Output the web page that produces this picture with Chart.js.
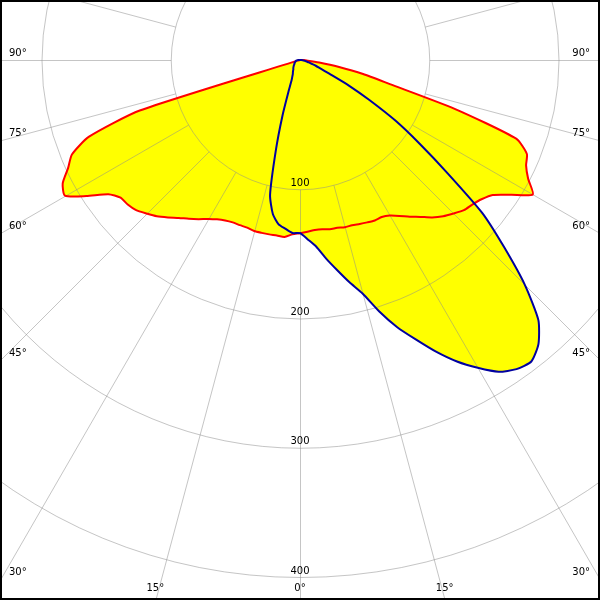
<!DOCTYPE html>
<html>
<head>
<meta charset="utf-8">
<title>Luminous intensity distribution</title>
<script src="https://cdn.jsdelivr.net/npm/chart.js@4.4.0/dist/chart.umd.min.js"></script>
<style>
    html, body { margin: 0; padding: 0; background: #fff; }
    #wrap { width: 600px; height: 600px; }
</style>
</head>
<body>
<div id="wrap"><canvas id="polar" width="600" height="600"></canvas></div>
<script>
// gamma angles (deg, 0 = straight down), shared by both planes
const gammaAngles = [
    -90, -87.5, -85, -82.5, -80, -77.5, -75, -72.5, -70, -67.5, -65, -62.5, -60, -57.5, -55, -52.5, -50, -47.5,
    -45, -42.5, -40, -37.5, -35, -32.5, -30, -27.5, -25, -22.5, -20, -17.5, -15, -12.5, -10, -7.5, -5, -2.5,
    0, 2.5, 5, 7.5, 10, 12.5, 15, 17.5, 20, 22.5, 25, 27.5, 30, 32.5, 35, 37.5, 40, 42.5,
    45, 47.5, 50, 52.5, 55, 57.5, 60, 62.5, 65, 67.5, 70, 72.5, 75, 77.5, 80, 82.5, 85, 87.5, 90
];

// C0 - C180 plane (red)
const redValues = [
    0, 0, 0, 0, 0, 0, 2, 130, 174, 191, 198, 207, 210, 196, 181, 175, 174, 172,
    168, 164, 159, 154, 150, 146, 142, 139, 137, 136, 136, 136, 137, 137, 137, 137, 137.5, 135,
    134, 133, 132, 132, 133, 133, 134, 134, 135, 136, 137, 137, 139, 143, 148, 153, 159, 164,
    168, 172, 174, 177, 182, 194, 208, 199, 193, 190, 178, 125, 72, 50, 30, 15, 6, 2, 0
];

// C90 - C270 plane (blue)
const blueValues = [
    0, 1, 2, 2.5, 3, 3, 3.5, 3.5, 4, 4, 4.5, 4.5, 5, 5, 5.5, 5.5, 6, 6.5,
    7, 7.5, 8, 8.5, 9, 10, 11, 12, 14, 17, 26, 45, 72, 107, 121, 128, 131, 134,
    134, 139, 145, 155, 165, 176, 187, 204, 220, 234, 249, 263, 275, 286, 292, 294, 287, 273,
    246, 214, 184, 144, 113, 88, 62, 42, 25, 17, 13, 9, 7, 5, 4, 3, 2, 1, 0
];

const ringValues = [100, 200, 300, 400, 500];
const ringLabels = ['100', '200', '300', '400'];
const angleTicks = [0, 15, 30, 45, 60, 75, 90];
const angleLabels = ['0°', '15°', '30°', '45°', '60°', '75°', '90°'];

const PX_PER_CD = 1.2925;
const gridColor = 'rgba(140, 140, 140, 0.5)';
const labelFont = '10px "DejaVu Sans", Verdana, sans-serif';

// polar (gamma, intensity) -> cartesian in cd units, y up
const toPoints = (values) => gammaAngles.map((g, i) => {
    const t = g * Math.PI / 180;
    return { x: values[i] * Math.sin(t), y: -values[i] * Math.cos(t) };
});

const polarGrid = {
    id: 'polarGrid',
    // runs after the filler has painted the yellow, before the outlines
    beforeDatasetsDraw(chart) {
        const { ctx, scales: { x, y } } = chart;
        const cx = x.getPixelForValue(0) + 0.5;
        const cy = y.getPixelForValue(0) + 0.5;
        const unit = x.getPixelForValue(1) - x.getPixelForValue(0);
        ctx.save();
        ctx.strokeStyle = gridColor;
        ctx.lineWidth = 1;
        ringValues.forEach(v => {
            ctx.beginPath();
            ctx.arc(cx, cy, v * unit, 0, Math.PI * 2);
            ctx.stroke();
        });
        const r0 = ringValues[0] * unit;
        for (let a = 0; a < 360; a += 15) {
            const t = a * Math.PI / 180;
            const sx = Math.sin(t), sy = Math.cos(t);
            ctx.beginPath();
            ctx.moveTo(cx + sx * r0, cy + sy * r0);
            ctx.lineTo(cx + sx * 1000, cy + sy * 1000);
            ctx.stroke();
        }
        ctx.restore();
    },
    afterDatasetsDraw(chart) {
        const { ctx, width: W, height: H, scales: { x, y } } = chart;
        const cx = x.getPixelForValue(0);
        const cy = y.getPixelForValue(0);
        const unit = x.getPixelForValue(1) - cx;
        ctx.save();
        ctx.fillStyle = '#000';
        ctx.font = labelFont;
        ctx.textBaseline = 'middle';

        // intensity labels along the 0 deg axis
        ctx.textAlign = 'center';
        ringLabels.forEach((lbl, i) => {
            ctx.fillText(lbl, cx, cy + ringValues[i] * unit - 6);
        });

        // angle labels where each ray leaves the frame
        angleTicks.forEach((a, i) => {
            const t = a * Math.PI / 180;
            const s = Math.sin(t), c = Math.cos(t);
            [-1, 1].forEach(side => {
                if (a === 0 && side === 1) return;
                const tSide = s > 1e-9 ? (side < 0 ? cx : W - cx) / s : Infinity;
                const tBottom = c > 1e-9 ? (H - cy) / c : Infinity;
                if (tSide <= tBottom) {
                    const yHit = cy + tSide * c;
                    ctx.textAlign = side < 0 ? 'left' : 'right';
                    ctx.fillText(angleLabels[i], side < 0 ? 9 : W - 10, yHit - 7);
                } else {
                    const xHit = cx + side * tBottom * s;
                    ctx.textAlign = 'center';
                    ctx.fillText(angleLabels[i], xHit, H - 12);
                }
            });
        });
        ctx.restore();
    },
    afterDraw(chart) {
        const { ctx, width: W, height: H } = chart;
        ctx.save();
        ctx.strokeStyle = '#000';
        ctx.lineWidth = 2;
        ctx.strokeRect(1, 1, W - 2, H - 2);
        ctx.restore();
    }
};

const ctx = document.getElementById('polar').getContext('2d');

new Chart(ctx, {
    type: 'scatter',
    data: {
        datasets: [
            {
                label: 'C0 - C180',
                data: toPoints(redValues),
                showLine: true,
                borderColor: '#ff0000',
                backgroundColor: '#ffff00',
                borderWidth: 2,
                pointRadius: 0,
                tension: 0.2,
                fill: 'shape',
                order: 1
            },
            {
                label: 'C90 - C270',
                data: toPoints(blueValues),
                showLine: true,
                borderColor: '#0000a0',
                backgroundColor: '#ffff00',
                borderWidth: 2,
                pointRadius: 0,
                tension: 0.2,
                fill: 'shape',
                order: 0
            }
        ]
    },
    options: {
        responsive: false,
        animation: false,
        devicePixelRatio: 1,
        events: [],
        layout: { padding: 0 },
        plugins: {
            legend: { display: false },
            tooltip: { enabled: false },
            filler: { drawTime: 'beforeDatasetsDraw' }
        },
        scales: {
            x: { type: 'linear', display: false, min: -300 / PX_PER_CD, max: 300 / PX_PER_CD },
            y: { type: 'linear', display: false, min: -540 / PX_PER_CD, max: 60 / PX_PER_CD }
        }
    },
    plugins: [polarGrid]
});
</script>
</body>
</html>
